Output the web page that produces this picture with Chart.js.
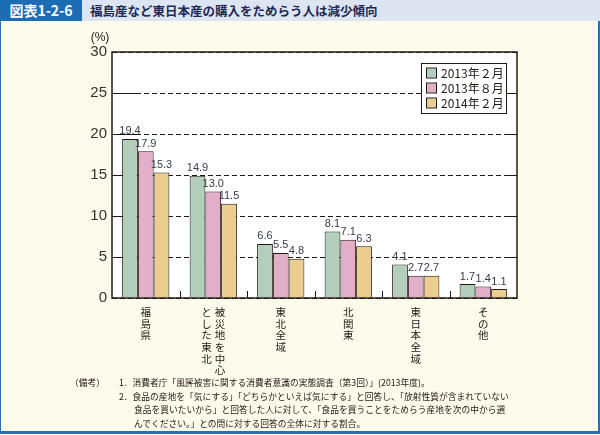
<!DOCTYPE html>
<html>
<head>
<meta charset="utf-8">
<script src="https://cdn.jsdelivr.net/npm/chart.js@4/dist/chart.umd.min.js"></script>
<style>
  body { margin: 0; width: 600px; height: 435px; overflow: hidden; background: #fdfbeb; position: relative;
         font-family: "Noto Sans CJK JP", sans-serif; color: #231815; }
  #head { position: absolute; left: 0; top: 0; width: 600px; height: 21px; background: #dde5f2; }
  #figNo { position: absolute; left: 0; top: 0; width: 82px; height: 21px; background: #1d6db5; color: #fff;
           font-weight: bold; font-size: 14px; line-height: 21px; text-align: center; }
  #title { position: absolute; left: 90px; top: 0; font-size: 12.5px; font-weight: bold; line-height: 21px; color: #1e2a55; }
  #frame { position: absolute; left: 0; top: 21px; width: 597px; height: 410px;
           border-left: 1px solid #2a6db0; border-right: 2px solid #2a6db0; border-bottom: 3px solid #2a6db0; }
  canvas { position: absolute; left: 0; top: 0; }
  .note { position: absolute; font-size: 8.75px; line-height: 10px; white-space: nowrap; }
</style>
</head>
<body>
<div id="head"><div id="figNo">図表1-2-6</div><div id="title">福島産など東日本産の購入をためらう人は減少傾向</div></div>
<div id="frame"></div>
<canvas id="chart" width="600" height="435"></canvas>
<div class="note" style="left:70px;top:378px">（備考）</div>
<div class="note" style="left:119px;top:378px">1．消費者庁「風評被害に関する消費者意識の実態調査（第3回）」(2013年度)。</div>
<div class="note" style="left:119px;top:392px">2．食品の産地を「気にする」「どちらかといえば気にする」と回答し、「放射性質が含まれていない</div>
<div class="note" style="left:134px;top:405px">食品を買いたいから」と回答した人に対して、「食品を買うことをためらう産地を次の中から選</div>
<div class="note" style="left:134px;top:419px">んでください。」との問に対する回答の全体に対する割合。</div>

<script>
// ---------------- DATA ----------------
// each category is a list of vertical columns, right column first
const categories = [['福島県'], ['被災地を中心', 'とした東北'], ['東北全域'], ['北関東'], ['東日本全域'], ['その他']];
const seriesNames = ['2013年２月', '2013年８月', '2014年２月'];
const feb2013 = [19.4, 14.9, 6.6, 8.1, 4.1, 1.7];
const aug2013 = [17.9, 13.0, 5.5, 7.1, 2.7, 1.4];
const feb2014 = [15.3, 11.5, 4.8, 6.3, 2.7, 1.1];
const yMin = 0, yMax = 30, yStep = 5;

const colors = ['#b3cfbb', '#e3aec7', '#ebcd8d'];
const ink = '#231815';
const numFont = '"Liberation Sans Narrow", "Liberation Sans", sans-serif';
const jpFont = '"Noto Sans CJK JP", sans-serif';

// ---------------- PLUGINS ----------------
const decor = {
  id: 'decor',
  beforeDraw(chart) {
    const { ctx, chartArea: a } = chart;
    ctx.save();
    ctx.fillStyle = '#fff';
    ctx.fillRect(a.left, a.top, a.right - a.left, a.bottom - a.top);
    ctx.restore();
  },
  beforeDatasetsDraw(chart) {
    // solid ends of the dashed grid lines
    const { ctx, chartArea: a, scales: { y } } = chart;
    ctx.save();
    ctx.strokeStyle = ink;
    ctx.lineWidth = 1;
    for (let v = yMin + yStep; v < yMax; v += yStep) {
      const py = Math.round(y.getPixelForValue(v)) + 0.5;
      ctx.beginPath();
      ctx.moveTo(a.left, py); ctx.lineTo(a.left + 28, py);
      ctx.moveTo(a.right - 10, py); ctx.lineTo(a.right, py);
      ctx.stroke();
    }
    ctx.restore();
  },
  afterDatasetsDraw(chart) {
    const { ctx, chartArea: a, scales: { x } } = chart;
    ctx.save();
    // plot box
    ctx.strokeStyle = ink;
    ctx.lineWidth = 1.5;
    ctx.strokeRect(a.left, a.top, a.right - a.left, a.bottom - a.top);
    // small ticks between categories
    ctx.lineWidth = 1;
    for (let i = 1; i < categories.length; i++) {
      const px = Math.round((x.getPixelForValue(i - 1) + x.getPixelForValue(i)) / 2) + 0.5;
      ctx.beginPath();
      ctx.moveTo(px, a.bottom); ctx.lineTo(px, a.bottom - 7);
      ctx.stroke();
    }
    // value labels
    ctx.fillStyle = '#333b4c';
    ctx.font = '11px ' + numFont;
    ctx.textAlign = 'center';
    ctx.textBaseline = 'bottom';
    chart.data.datasets.forEach((ds, di) => {
      chart.getDatasetMeta(di).data.forEach((bar, i) => {
        ctx.fillText(ds.data[i].toFixed(1), bar.x, bar.y - 2);
      });
    });
    // vertical category labels
    ctx.fillStyle = ink;
    ctx.font = '10.5px ' + jpFont;
    ctx.textBaseline = 'middle';
    categories.forEach((cols, i) => {
      const cx = x.getPixelForValue(i);
      cols.forEach((col, j) => {
        const colX = cx + ((cols.length - 1) / 2 - j) * 13.5;
        [...col].forEach((ch, k) => ctx.fillText(ch, colX, a.bottom + 14 + k * 11.7));
      });
    });
    // unit
    ctx.font = '12px ' + numFont;
    ctx.fillText('(%)', a.left - 12, a.top - 14);
    // legend
    const lx = a.right - 96, ly = a.top + 11, lw = 85, lh = 50;
    ctx.fillStyle = '#fff';
    ctx.fillRect(lx, ly, lw, lh);
    ctx.lineWidth = 1;
    ctx.strokeRect(lx + 0.5, ly + 0.5, lw, lh);
    ctx.textAlign = 'left';
    ctx.font = '12px ' + jpFont;
    chart.data.datasets.forEach((ds, di) => {
      const ry = ly + 10 + di * 15;
      ctx.fillStyle = ds.backgroundColor;
      ctx.fillRect(lx + 6, ry - 4.5, 9, 9);
      ctx.strokeStyle = ink;
      ctx.strokeRect(lx + 5.5, ry - 5, 10, 10);
      ctx.fillStyle = ink;
      ctx.fillText(ds.label, lx + 20, ry + 0.5);
    });
    ctx.restore();
  },
};

// ---------------- CHART ----------------
new Chart(document.getElementById('chart'), {
  type: 'bar',
  data: {
    labels: categories.map((c) => c.join('')),
    datasets: [feb2013, aug2013, feb2014].map((d, i) => ({
      label: seriesNames[i],
      data: d,
      backgroundColor: colors[i],
      borderColor: ink,
      borderWidth: 1,
      categoryPercentage: 0.7,
      barPercentage: 1.0,
    })),
  },
  options: {
    responsive: false,
    animation: false,
    layout: { padding: { left: 72, right: 83, top: 52, bottom: 137 } },
    plugins: { legend: { display: false }, tooltip: { enabled: false } },
    scales: {
      x: {
        ticks: { display: false },
        grid: { display: false },
        border: { display: false },
        afterFit: (s) => { s.height = 0; },
      },
      y: {
        min: yMin,
        max: yMax,
        ticks: { stepSize: yStep, padding: 5, color: '#333', font: { family: numFont, size: 15 } },
        grid: { color: ink, lineWidth: 1, drawTicks: false },
        border: { display: false, dash: [5, 3] },
        afterFit: (s) => { s.width = 40; },
      },
    },
  },
  plugins: [decor],
});
</script>
</body>
</html>
